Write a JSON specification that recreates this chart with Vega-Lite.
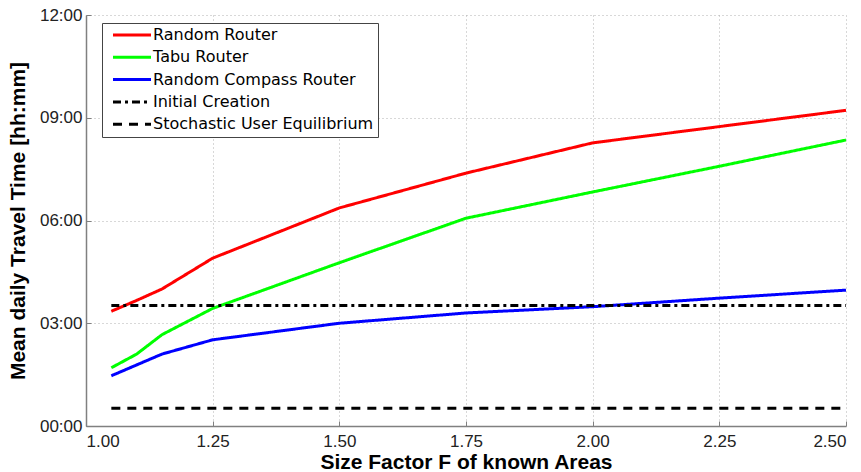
{
  "$schema": "https://vega.github.io/schema/vega-lite/v6.json",
  "autosize": {"type": "none"},
  "width": 760,
  "height": 411,
  "padding": {"left": 86, "top": 15, "right": 15, "bottom": 46},
  "background": "white",
  "config": {
    "font": "Liberation Sans",
    "view": {"stroke": null},
    "axis": {
      "labelFont": "Liberation Sans",
      "labelFontSize": 17,
      "labelColor": "#222222",
      "titleFont": "Liberation Sans",
      "titleFontSize": 21,
      "titleFontWeight": "bold",
      "titleColor": "#000000",
      "domainColor": "#808080",
      "domainWidth": 1.5,
      "tickColor": "#808080",
      "tickSize": -5,
      "gridColor": "#b0b0b0",
      "gridDash": [1, 3],
      "gridWidth": 1
    }
  },
  "data": {
    "values": [
      {"x": 1.05, "t": 201, "series": "Random Router"},
      {"x": 1.10, "t": 220, "series": "Random Router"},
      {"x": 1.15, "t": 240, "series": "Random Router"},
      {"x": 1.25, "t": 294, "series": "Random Router"},
      {"x": 1.50, "t": 382, "series": "Random Router"},
      {"x": 1.75, "t": 443, "series": "Random Router"},
      {"x": 2.00, "t": 496, "series": "Random Router"},
      {"x": 2.50, "t": 553, "series": "Random Router"},
      {"x": 1.05, "t": 102, "series": "Tabu Router"},
      {"x": 1.10, "t": 126, "series": "Tabu Router"},
      {"x": 1.15, "t": 160, "series": "Tabu Router"},
      {"x": 1.25, "t": 206, "series": "Tabu Router"},
      {"x": 1.50, "t": 286, "series": "Tabu Router"},
      {"x": 1.75, "t": 364, "series": "Tabu Router"},
      {"x": 2.00, "t": 410, "series": "Tabu Router"},
      {"x": 2.25, "t": 455, "series": "Tabu Router"},
      {"x": 2.50, "t": 501, "series": "Tabu Router"},
      {"x": 1.05, "t": 88, "series": "Random Compass Router"},
      {"x": 1.10, "t": 107, "series": "Random Compass Router"},
      {"x": 1.15, "t": 126, "series": "Random Compass Router"},
      {"x": 1.25, "t": 151, "series": "Random Compass Router"},
      {"x": 1.50, "t": 180, "series": "Random Compass Router"},
      {"x": 1.75, "t": 198, "series": "Random Compass Router"},
      {"x": 2.00, "t": 209, "series": "Random Compass Router"},
      {"x": 2.25, "t": 224, "series": "Random Compass Router"},
      {"x": 2.50, "t": 238, "series": "Random Compass Router"},
      {"x": 1.05, "t": 211, "series": "Initial Creation"},
      {"x": 2.50, "t": 211, "series": "Initial Creation"},
      {"x": 1.05, "t": 31, "series": "Stochastic User Equilibrium"},
      {"x": 2.50, "t": 31, "series": "Stochastic User Equilibrium"}
    ]
  },
  "mark": {"type": "line", "strokeWidth": 3, "clip": false},
  "encoding": {
    "x": {
      "field": "x",
      "type": "quantitative",
      "scale": {"domain": [1, 2.5], "nice": false, "zero": false},
      "axis": {
        "values": [1, 1.25, 1.5, 1.75, 2, 2.25, 2.5],
        "format": ".2f",
        "title": "Size Factor F of known Areas",
        "titlePadding": 2,
        "labelPadding": 12
      }
    },
    "y": {
      "field": "t",
      "type": "quantitative",
      "scale": {"domain": [0, 720], "nice": false},
      "axis": {
        "values": [0, 180, 360, 540, 720],
        "labelExpr": "format(floor(datum.value/60),'02d') + ':' + format(datum.value%60,'02d')",
        "title": "Mean daily Travel Time [hh:mm]",
        "titlePadding": 11,
        "labelPadding": 9
      }
    },
    "color": {
      "field": "series",
      "type": "nominal",
      "scale": {
        "domain": ["Random Router", "Tabu Router", "Random Compass Router", "Initial Creation", "Stochastic User Equilibrium"],
        "range": ["#ff0000", "#00ff00", "#0000ff", "#000000", "#000000"]
      },
      "legend": {
        "title": null,
        "orient": "none",
        "legendX": 16,
        "legendY": 8,
        "symbolType": "M-1,0H6.6",
        "symbolSize": 100,
        "symbolStrokeWidth": 3,
        "symbolOffset": 4,
        "labelFont": "DejaVu Sans",
        "labelFontSize": 16,
        "labelColor": "#000000",
        "labelOffset": 27,
        "labelLimit": 400,
        "rowPadding": 6.3,
        "padding": 4,
        "fillColor": "white",
        "strokeColor": "#444444",
        "cornerRadius": 0
      }
    },
    "strokeDash": {
      "field": "series",
      "type": "nominal",
      "scale": {
        "domain": ["Random Router", "Tabu Router", "Random Compass Router", "Initial Creation", "Stochastic User Equilibrium"],
        "range": [[1, 0], [1, 0], [1, 0], [8, 4, 3, 4], [9, 7]]
      },
      "legend": null
    }
  }
}
